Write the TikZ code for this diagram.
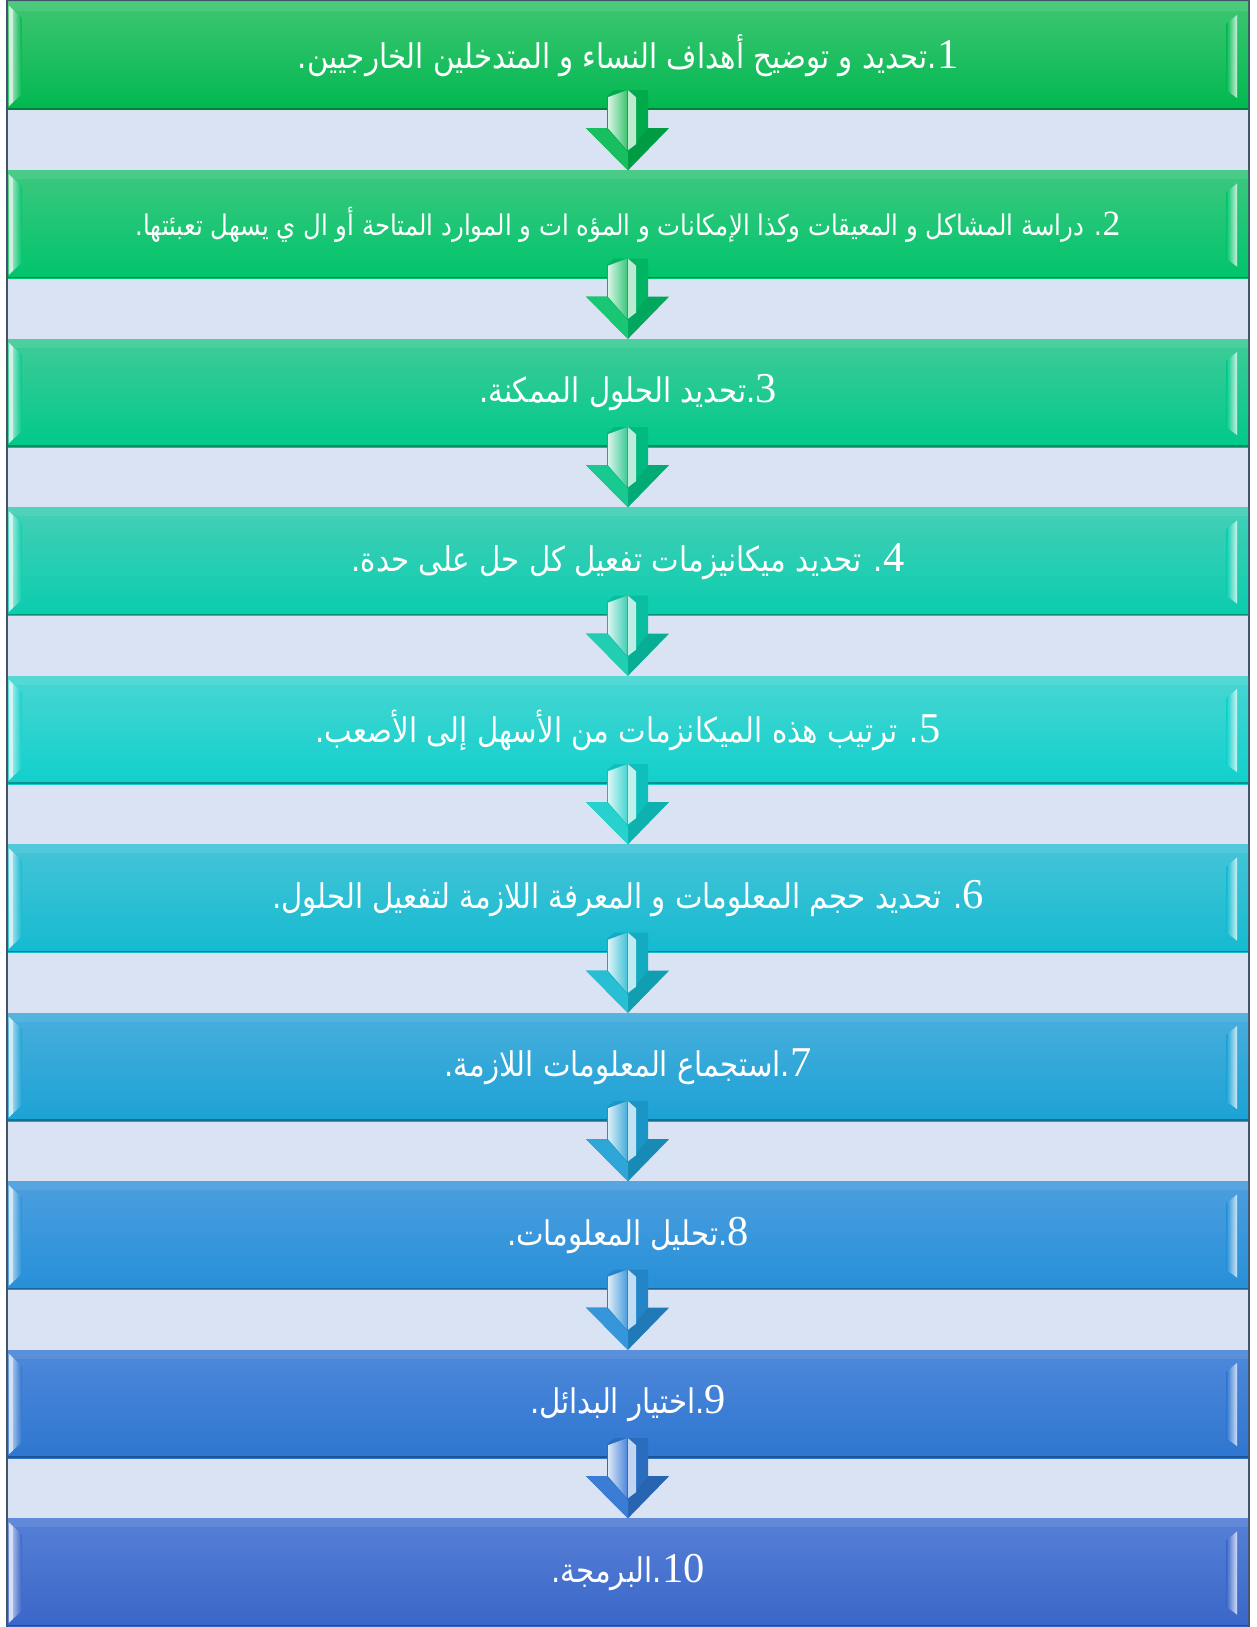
\documentclass[tikz,border=0pt]{standalone}
\usepackage{fontspec}
\usetikzlibrary{calc}
\TeXXeTstate=1
\newfontfamily\arabicfont[Script=Arabic,FakeStretch=0.86]{DejaVu Sans}
\newfontfamily\numfont[Scale=1.25]{Liberation Serif}

% top / bottom colours of the ten steps, green to blue
\definecolor{top1}{HTML}{3FC672}\definecolor{bot1}{HTML}{00B850}
\definecolor{top2}{HTML}{3CC87E}\definecolor{bot2}{HTML}{00C46C}
\definecolor{top3}{HTML}{40CB98}\definecolor{bot3}{HTML}{00C98A}
\definecolor{top4}{HTML}{44CFB6}\definecolor{bot4}{HTML}{0ACDAE}
\definecolor{top5}{HTML}{48D6D2}\definecolor{bot5}{HTML}{10D0CC}
\definecolor{top6}{HTML}{46C4D8}\definecolor{bot6}{HTML}{14BAD0}
\definecolor{top7}{HTML}{48AEDC}\definecolor{bot7}{HTML}{1CA2D6}
\definecolor{top8}{HTML}{4C9EDE}\definecolor{bot8}{HTML}{2690D8}
\definecolor{top9}{HTML}{4E88DA}\definecolor{bot9}{HTML}{2E76D0}
\definecolor{top10}{HTML}{5680D6}\definecolor{bot10}{HTML}{3A66C8}
\definecolor{panel}{HTML}{DAE3F3}
\definecolor{frameline}{HTML}{44546A}

\newcommand\num[1]{\beginL{\numfont #1}\endL}

\tikzset{
  stepbar/.style={minimum width=1240pt, minimum height=108pt, inner sep=0pt,
    text=white, top color=top#1, bottom color=bot#1,
    font=\arabicfont\fontsize{34}{40}\selectfont},
}

% bevelled edges of a step bar
\newcommand\barbevel[2]{%
  \fill[white, opacity=0.08] (#1.north west) rectangle ($(#1.north east)+(0,9)$);
  \draw[bot#2!70!black, line width=1.5pt] ($(#1.south west)+(0,-1)$) -- ($(#1.south east)+(0,-1)$);
  \shade[left color=top#2!30!white, right color=bot#2]
    ($(#1.north west)+(1,4)$) -- ($(#1.north west)+(14,16)$) --
    ($(#1.south west)+(14,-16)$) -- ($(#1.south west)+(1,-4)$) -- cycle;
  \fill[top#2!25!white] ($(#1.north west)+(1,4)$) -- ($(#1.north west)+(5,8)$) --
    ($(#1.south west)+(5,-8)$) -- ($(#1.south west)+(1,-4)$) -- cycle;
  \shade[left color=bot#2, right color=top#2!25!white]
    ($(#1.north east)+(-22,22)$) -- ($(#1.north east)+(-11,13)$) --
    ($(#1.south east)+(-11,-12)$) -- ($(#1.south east)+(-22,-20)$) -- cycle;
}

% block arrow from the bottom of one bar to the top of the next
\newcommand\steparrow[3]{%
  \coordinate (c) at ($(#1.south)$);
  \fill[bot#3!85!black] ($(c)+(-42,18)$) -- ($(c)+(41,18)$) -- (#2.north) -- cycle;
  \fill[bot#3!60!top#3] ($(c)+(-42,18)$) -- ($(c)+(0,18)$) -- (#2.north) -- cycle;
  \fill[bot#3!92!black] ($(c)+(-21,-14)$) -- ($(c)+(-14,-20)$) -- ($(c)+(20,-20)$) --
    ($(c)+(20,18)$) -- ($(c)+(0,42)$) -- ($(c)+(-21,18)$) -- cycle;
  \shade[left color=top#3!20!white, right color=top#3]
    ($(c)+(-20,-13)$) -- ($(c)+(-1,-20)$) -- ($(c)+(-1,40)$) -- ($(c)+(-20,18)$) -- cycle;
  \fill[top#3!35!white] ($(c)+(0,-20)$) -- ($(c)+(8,-13)$) -- ($(c)+(8,34)$) -- ($(c)+(0,40)$) -- cycle;
}

\begin{document}
\begin{tikzpicture}[x=1pt, y=-1pt]
  \useasboundingbox (0,0) rectangle (1256,1627);
  \fill[white] (0,0) rectangle (1256,1627);
  \draw[frameline, line width=2pt, fill=panel] (7,0) rectangle (1249,1627);

  \node[stepbar=1] (b1) at (628,56)
    {\beginR\num{1}.تحديد و توضيح أهداف النساء و المتدخلين الخارجيين.\endR};
  \node[stepbar=2, font=\arabicfont\fontsize{28.4}{33}\selectfont] (b2) at (628,224.5)
    {\beginR\num{2}. دراسة المشاكل و المعيقات وكذا الإمكانات و المؤه ات و الموارد المتاحة أو ال ي يسهل تعبئتها.\endR};
  \node[stepbar=3] (b3) at (628,393)
    {\beginR\num{3}.تحديد الحلول الممكنة.\endR};
  \node[stepbar=4] (b4) at (628,561.5)
    {\beginR\num{4}. تحديد ميكانيزمات تفعيل كل حل على حدة.\endR};
  \node[stepbar=5] (b5) at (628,730)
    {\beginR\num{5}. ترتيب هذه الميكانزمات من الأسهل إلى الأصعب.\endR};
  \node[stepbar=6] (b6) at (628,898.5)
    {\beginR\num{6}. تحديد حجم المعلومات و المعرفة اللازمة لتفعيل الحلول.\endR};
  \node[stepbar=7] (b7) at (628,1067)
    {\beginR\num{7}.استجماع المعلومات اللازمة.\endR};
  \node[stepbar=8] (b8) at (628,1235.5)
    {\beginR\num{8}.تحليل المعلومات.\endR};
  \node[stepbar=9] (b9) at (628,1404)
    {\beginR\num{9}.اختيار البدائل.\endR};
  \node[stepbar=10] (b10) at (628,1572.5)
    {\beginR\num{10}.البرمجة.\endR};

  \foreach \i in {1,...,10} {\barbevel{b\i}{\i}}

  \foreach \i [evaluate=\i as \j using int(\i+1)] in {1,...,9} {\steparrow{b\i}{b\j}{\i}}
\end{tikzpicture}
\end{document}
